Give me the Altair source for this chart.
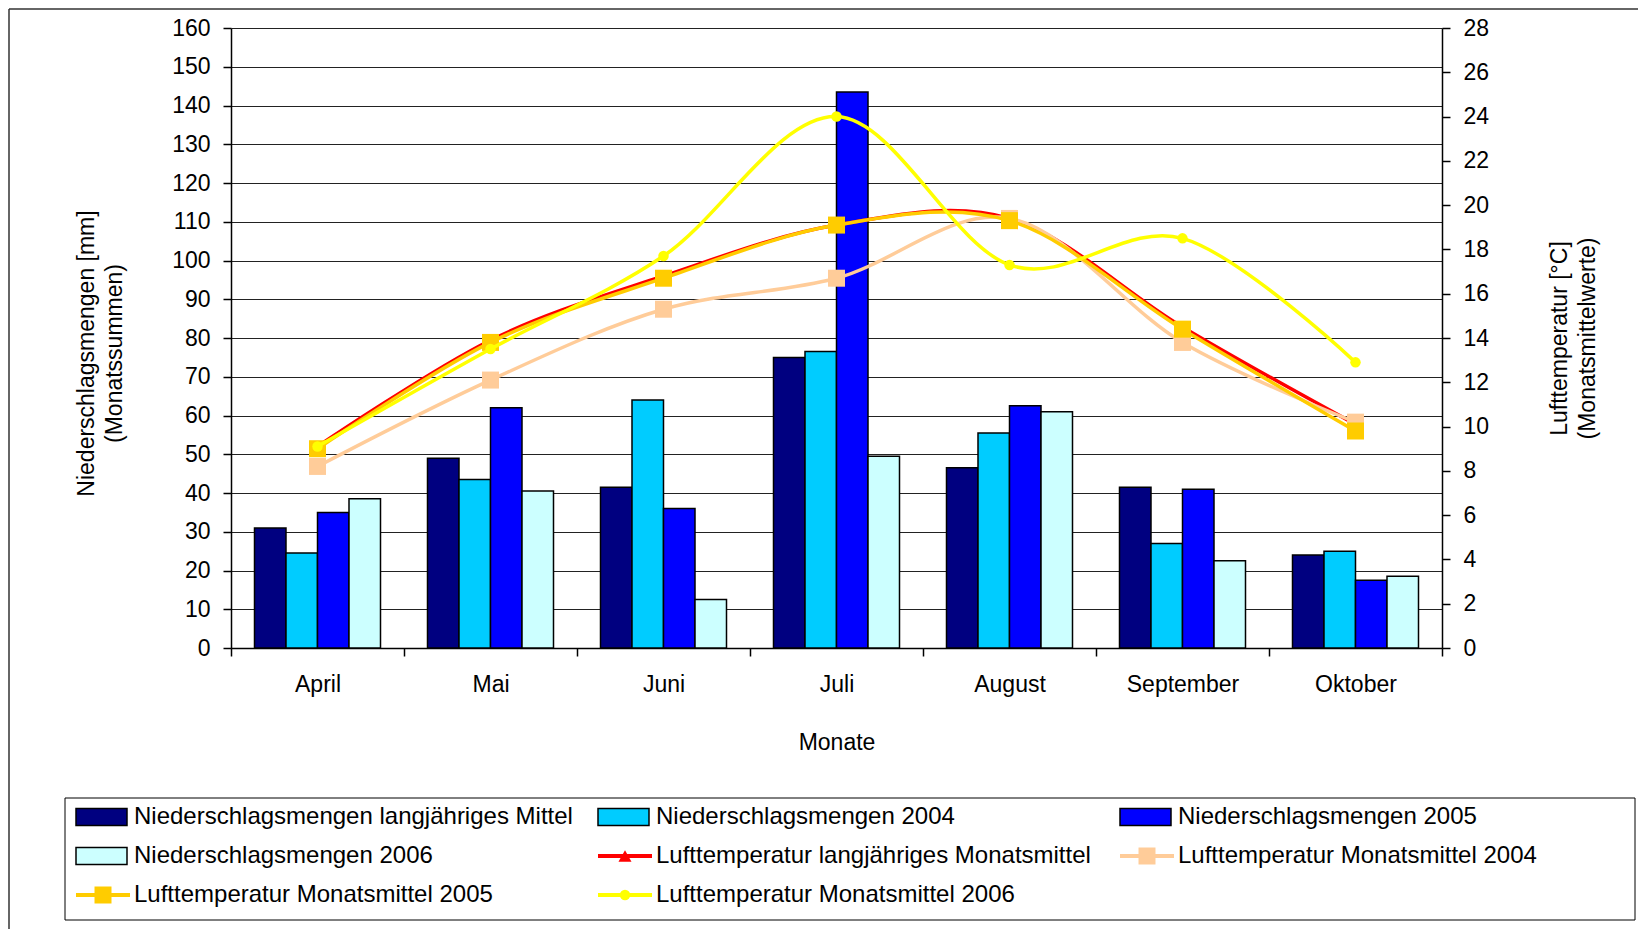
import altair as alt
import pandas as pd

FONT = "Liberation Sans"

months = ["April", "Mai", "Juni", "Juli", "August", "September", "Oktober"]

# Niederschlag [mm]
rain_lm = [31, 49, 41.5, 75, 46.5, 41.5, 24]
rain_2004 = [24.5, 43.5, 64, 76.5, 55.5, 27, 25]
rain_2005 = [35, 62, 36, 143.5, 62.5, 41, 17.5]
rain_2006 = [38.5, 40.5, 12.5, 49.5, 61, 22.5, 18.5]

# Lufttemperatur [°C]
temp_lm = [9.1, 13.9, 16.8, 19.1, 19.4, 14.5, 10.1]
temp_2004 = [8.2, 12.1, 15.3, 16.7, 19.4, 13.8, 10.2]
temp_2005 = [9.0, 13.8, 16.7, 19.1, 19.3, 14.4, 9.8]
temp_2006 = [9.1, 13.5, 17.7, 24.0, 17.3, 18.5, 12.9]

bar_series = [
    "Niederschlagsmengen langjähriges Mittel",
    "Niederschlagsmengen 2004",
    "Niederschlagsmengen 2005",
    "Niederschlagsmengen 2006",
]
bar_colors = ["#000080", "#00CCFF", "#0000FF", "#CCFFFF"]
line_series = [
    "Lufttemperatur langjähriges Monatsmittel",
    "Lufttemperatur Monatsmittel 2004",
    "Lufttemperatur Monatsmittel 2005",
    "Lufttemperatur Monatsmittel 2006",
]
line_colors = ["#FF0000", "#FFCC99", "#FFCC00", "#FFFF00"]
line_markers = ["triangle-up", "square", "square", "circle"]
marker_sizes = [170, 289, 289, 110]
plot_markers = [False, True, True, True]

rain_values = [rain_lm, rain_2004, rain_2005, rain_2006]
temp_values = [temp_lm, temp_2004, temp_2005, temp_2006]

bar_df = pd.DataFrame(
    [
        {"Monat": m, "Serie": s, "Wert": v}
        for s, vals in zip(bar_series, rain_values)
        for m, v in zip(months, vals)
    ]
)
temp_df = pd.DataFrame(
    [
        {"Monat": m, "Serie": s, "Temp": v}
        for s, vals in zip(line_series, temp_values)
        for m, v in zip(months, vals)
    ]
)

x_axis = alt.Axis(
    title="Monate",
    tickBand="extent",
    labelAngle=0,
    tickSize=8,
    tickWidth=1.5,
    tickColor="black",
    domainColor="black",
    domainWidth=1.5,
    labelFontSize=23,
    labelPadding=17,
    titleFontSize=23,
    titlePadding=35,
    grid=False,
)
left_axis = alt.Axis(
    title=["Niederschlagsmengen [mm]", "(Monatssummen)"],
    values=list(range(0, 161, 10)),
    grid=True,
    gridColor="#222222",
    gridWidth=1,
    domainColor="black",
    domainWidth=1.5,
    tickColor="black",
    tickSize=8,
    tickWidth=1.5,
    labelFontSize=23,
    labelPadding=13,
    titleFontSize=23,
    titleLineHeight=28,
    titlePadding=45,
    titleY=325,
)
right_axis = alt.Axis(
    orient="right",
    title=["Lufttemperatur [°C]", "(Monatsmittelwerte)"],
    values=list(range(0, 29, 2)),
    grid=False,
    domainColor="black",
    domainWidth=1.5,
    tickColor="black",
    tickSize=8,
    tickWidth=1.5,
    labelFontSize=23,
    labelPadding=13,
    titleFontSize=23,
    titleLineHeight=28,
    titleAngle=270,
    titleBaseline="top",
    titlePadding=32,
)

x_enc = alt.X("Monat:N", sort=months, scale=alt.Scale(paddingInner=0, paddingOuter=0), axis=x_axis)
y_temp = alt.Y("Temp:Q", scale=alt.Scale(domain=[0, 28], nice=False), axis=right_axis)

bars = alt.Chart(bar_df).mark_bar(stroke="black", strokeWidth=1.5).encode(
    x=x_enc,
    xOffset=alt.XOffset("Serie:N", sort=bar_series,
                        scale=alt.Scale(paddingInner=0, paddingOuter=0.746)),
    y=alt.Y("Wert:Q", scale=alt.Scale(domain=[0, 160], nice=False), axis=left_axis),
    fill=alt.Fill("Serie:N", sort=bar_series,
                  scale=alt.Scale(domain=bar_series, range=bar_colors), legend=None),
)

temp_layers = []
for i, (s, col) in enumerate(zip(line_series, line_colors)):
    base = alt.Chart(temp_df).transform_filter(alt.datum.Serie == s)
    temp_layers.append(
        base.mark_line(color=col, strokeWidth=3.5, interpolate="cardinal").encode(
            x=alt.X("Monat:N", sort=months), y=y_temp
        )
    )
    if plot_markers[i]:
        temp_layers.append(
            base.mark_point(
                shape=line_markers[i], size=marker_sizes[i], filled=True,
                color=col, opacity=1,
            ).encode(x=alt.X("Monat:N", sort=months), y=y_temp)
        )

temps = alt.layer(*temp_layers)
main = alt.layer(bars, temps).resolve_scale(y="independent")

# ---- legend (3 columns, row-major) ----
leg_labels = bar_series + line_series
leg_kind = ["bar"] * 4 + ["line"] * 4
leg_colors = bar_colors + line_colors
leg_markers = ["square"] * 4 + line_markers
leg_msize = [0] * 4 + marker_sizes
leg_df = pd.DataFrame(
    {
        "label": leg_labels,
        "kind": leg_kind,
        "color": leg_colors,
        "marker": leg_markers,
        "msize": leg_msize,
        "col": [i % 3 for i in range(8)],
        "row": [i // 3 for i in range(8)],
    }
)
lx = alt.X("col:Q", scale=alt.Scale(domain=[0, 2], range=[-155, 889]), axis=None)
ly = alt.Y("row:Q", scale=alt.Scale(domain=[0, 2], range=[789, 867]), axis=None)

leg_base = alt.Chart(leg_df)
rect_path = "M-1,-0.3333L1,-0.3333L1,0.3333L-1,0.3333Z"
leg_rects = leg_base.transform_filter(alt.datum.kind == "bar").mark_point(
    shape=rect_path, size=51 * 51, filled=True, stroke="black", strokeWidth=1.5,
    opacity=1, xOffset=25.5,
).encode(x=lx, y=ly, fill=alt.Fill("color:N", scale=None))
leg_lines = leg_base.transform_filter(alt.datum.kind == "line").mark_point(
    shape="M-1,0L1,0", size=54 * 54, filled=False, strokeWidth=4, opacity=1, xOffset=27,
).encode(x=lx, y=ly, stroke=alt.Stroke("color:N", scale=None))
leg_marks = leg_base.transform_filter(alt.datum.kind == "line").mark_point(
    filled=True, opacity=1, xOffset=27,
).encode(
    x=lx, y=ly,
    fill=alt.Fill("color:N", scale=None),
    shape=alt.Shape("marker:N", scale=None),
    size=alt.Size("msize:Q", scale=None),
)
leg_text = leg_base.mark_text(
    align="left", baseline="middle", xOffset=58, fontSize=24, font=FONT, color="black"
).encode(x=lx, y=ly, text="label:N")

frame_df = pd.DataFrame({"k": [0]})
leg_box = alt.Chart(frame_df).mark_rect(
    fillOpacity=0, stroke="black", strokeWidth=1
).encode(x=alt.value(-166), x2=alt.value(1404), y=alt.value(770), y2=alt.value(892))
outer_top = alt.Chart(frame_df).mark_rule(color="#333333", strokeWidth=1.5).encode(
    x=alt.value(-222), x2=alt.value(1407), y=alt.value(-19)
)
outer_left = alt.Chart(frame_df).mark_rule(color="#333333", strokeWidth=1.5).encode(
    x=alt.value(-222), y=alt.value(-19), y2=alt.value(901)
)

chart = (
    alt.layer(main, leg_box, leg_rects, leg_lines, leg_marks, leg_text, outer_top, outer_left)
    .resolve_scale(x="independent", y="independent")
    .properties(
        width=1211,
        height=620,
        autosize=alt.AutoSizeParams(type="none"),
        padding={"left": 223, "top": 20, "right": 196, "bottom": 281},
    )
    .configure_view(stroke=None)
    .configure_axis(labelFont=FONT, titleFont=FONT, labelColor="black", titleColor="black",
                    titleFontWeight="normal")
    .configure_text(font=FONT)
)

chart.save("out.html", embed_options={"renderer": "svg", "actions": False})
